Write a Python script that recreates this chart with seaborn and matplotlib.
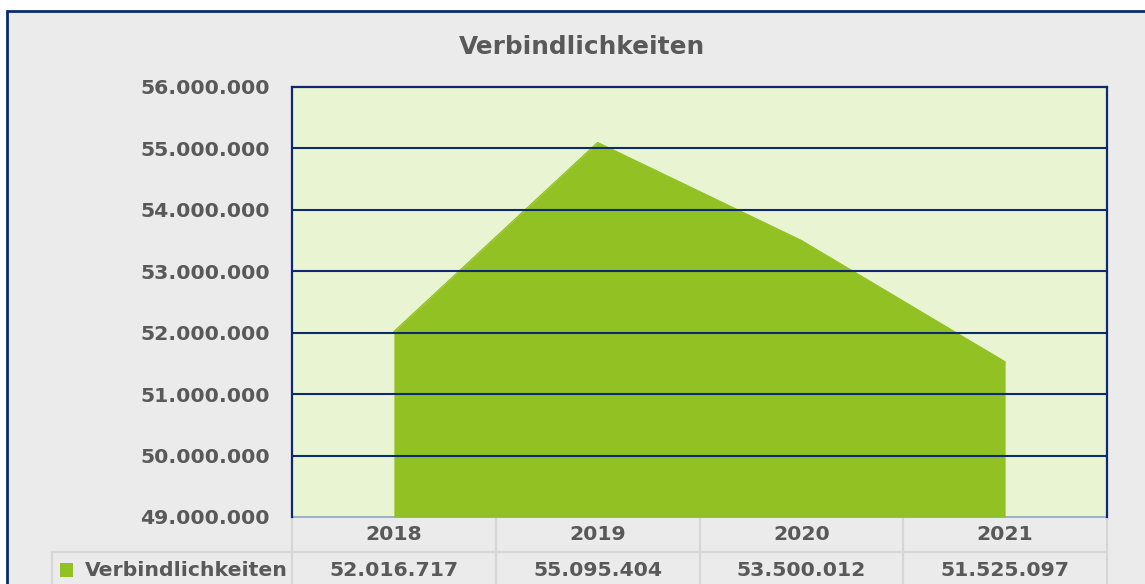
import numpy as np
import pandas as pd
import matplotlib
matplotlib.use('Agg')
import matplotlib.pyplot as plt
import seaborn as sns
from matplotlib.patches import Rectangle

# Data
years = ['2018', '2019', '2020', '2021']
verbindlichkeiten = [52016717, 55095404, 53500012, 51525097]
series_name = 'Verbindlichkeiten'
yticks = [49000000, 50000000, 51000000, 52000000, 53000000, 54000000, 55000000, 56000000]


def de_fmt(v):
    return f'{v:,.0f}'.replace(',', '.')


NAVY = '#0B2A6F'
GREEN = '#92C123'
PLOT_BG = '#E9F5D2'
FRAME_BG = '#EBEBEB'
TXT = '#595959'
CELL = '#D6D6D6'
FS = 14.7

sns.set_theme(style='white')
plt.rcParams['font.family'] = ['DejaVu Sans']

W, H = 1145, 584
fig = plt.figure(figsize=(W / 100, H / 100), dpi=100)
fig.patch.set_facecolor('white')

# pixel helper axes for frame and data table
bg = fig.add_axes([0, 0, 1, 1], zorder=0)
bg.set_xlim(0, W)
bg.set_ylim(H, 0)
bg.axis('off')
bg.add_patch(Rectangle((7, 11), W + 20, H + 20, facecolor=FRAME_BG,
                       edgecolor=NAVY, linewidth=2))

# plot area
x0, x1, y0, y1 = 292, 1107, 87, 517
ax = fig.add_axes([x0 / W, 1 - y1 / H, (x1 - x0) / W, (y1 - y0) / H], zorder=2)
ax.set_facecolor(PLOT_BG)

df = pd.DataFrame({'pos': np.arange(len(years)), 'val': verbindlichkeiten})
ax.fill_between(df['pos'], df['val'], yticks[0], color=GREEN, linewidth=0, zorder=3)
sns.lineplot(data=df, x='pos', y='val', ax=ax, color=GREEN, linewidth=1, zorder=3)

ax.set_xlim(-0.5, len(years) - 0.5)
ax.set_ylim(yticks[0], yticks[-1])
ax.set_yticks(yticks)
ax.set_yticklabels([de_fmt(t) for t in yticks], color=TXT, fontsize=FS, fontweight='bold')
ax.tick_params(axis='y', length=0, pad=16)
ax.set_xticks([])
ax.set_xlabel('')
ax.set_ylabel('')
for t in yticks[1:-1]:
    ax.axhline(t, color=NAVY, linewidth=1.5, zorder=4)
for side in ['top', 'left', 'right']:
    ax.spines[side].set_color(NAVY)
    ax.spines[side].set_linewidth(1.6)
    ax.spines[side].set_zorder(5)
ax.spines['bottom'].set_color('#8FA2C6')
ax.spines['bottom'].set_linewidth(1.2)

fig.text(582 / W, 1 - 47 / H, series_name, ha='center', va='center',
         color=TXT, fontsize=17.8, fontweight='bold')

# data table
tb = fig.add_axes([0, 0, 1, 1], zorder=1)
tb.set_xlim(0, W)
tb.set_ylim(H, 0)
tb.axis('off')
col_w = (x1 - x0) / len(years)
row1_top, row_mid = 518, 552
edges = [x0 + i * col_w for i in range(len(years) + 1)]
for xe in edges:
    tb.plot([xe, xe], [row1_top, H + 5], color=CELL, linewidth=1.6)
tb.plot([x0, x1], [row_mid, row_mid], color=CELL, linewidth=1.6)
tb.plot([52, x0], [row_mid, row_mid], color=CELL, linewidth=1.6)
tb.plot([52, 52], [row_mid, H + 5], color=CELL, linewidth=1.6)
for i, (yr, v) in enumerate(zip(years, verbindlichkeiten)):
    cx = x0 + (i + 0.5) * col_w
    tb.text(cx, 535, yr, ha='center', va='center', color=TXT,
            fontsize=FS, fontweight='bold')
    tb.text(cx, 570, de_fmt(v), ha='center', va='center', color=TXT,
            fontsize=FS, fontweight='bold')
tb.add_patch(Rectangle((60, 563), 13, 14, facecolor=GREEN, edgecolor='none'))
tb.text(85, 570, series_name, ha='left', va='center', color=TXT,
        fontsize=FS, fontweight='bold')

fig.savefig('out.png', dpi=100, facecolor=fig.get_facecolor())
